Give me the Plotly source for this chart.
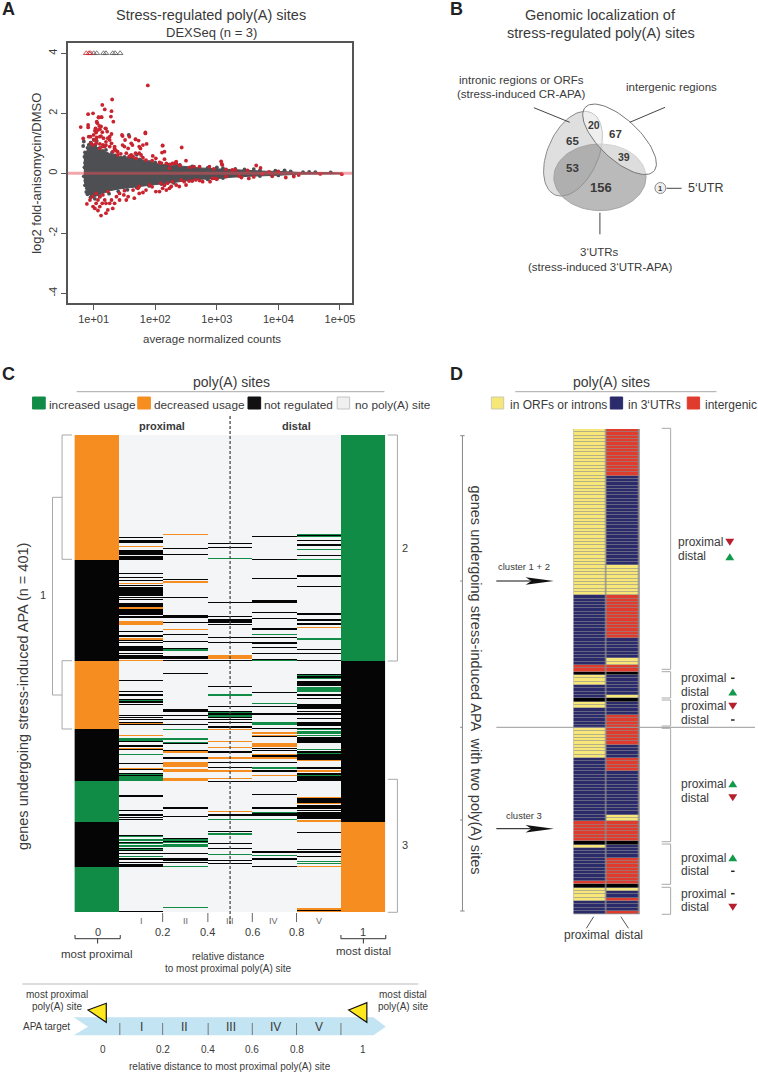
import numpy as np
import plotly.graph_objects as go

W, H = 758, 1073
FONT = "Liberation Sans"
TEXT = "#3a3a3a"
RULE = "#a8a8a8"
GREEN, ORANGE, BLACK, EMPTY = "#118c46", "#f68d20", "#050505", "#f4f5f7"
YELLOW, NAVY, RED = "#f7e678", "#2b2a6b", "#e03c2e"

# panel A, MA plot. x values are log10(mean counts), y values log2 fold change
dense_lx = [0.84, 0.88, 0.92, 0.99, 1.10, 1.26, 1.42, 1.64, 1.85, 2.07, 2.28, 2.50, 2.72, 2.99,
            3.25, 3.52, 3.79, 4.06, 4.33, 4.87, 5.03]
dense_up = [0.62, 0.72, 0.86, 0.98, 0.80, 0.66, 0.56, 0.52, 0.42, 0.30, 0.27, 0.22, 0.18, 0.15,
            0.12, 0.10, 0.07, 0.06, 0.03, 0.02, 0.01]
dense_lo = [-0.22, -0.50, -0.70, -0.80, -0.70, -0.58, -0.52, -0.46, -0.40, -0.35, -0.30, -0.25, -0.20, -0.18,
            -0.13, -0.10, -0.07, -0.06, -0.03, -0.02, -0.02]
grey_lx = [1.57, 0.83, 0.84, 0.87, 0.89, 0.93, 0.85, 0.86, 0.90, 0.95, 1.00, 1.05, 1.70, 2.40, 3.00, 3.60, 4.10, 4.50, 4.85,
           0.86, 0.85, 0.84, 0.86, 0.88, 0.90, 0.92, 0.97, 1.03, 1.10, 1.15, 1.20, 1.30, 1.35, 1.50, 1.60, 1.75, 1.90, 2.00,
           2.20, 2.35, 2.60, 2.85, 3.10, 3.30, 3.45, 3.70, 3.95, 4.20, 4.40, 4.60, 0.95, 1.02, 1.10, 1.25, 1.40, 1.55, 1.70,
           1.90, 2.10, 2.30, 2.60, 2.85, 3.10, 3.40, 3.70, 4.00, 4.25]
grey_y = [1.28, 0.91, 1.06, -0.28, -0.50, -0.61, 0.55, 0.70, 0.85, 1.02, 1.12, 1.08, 0.62, 0.28, 0.20, 0.14, 0.10, 0.05, 0.03,
          0.35, 0.20, -0.10, -0.40, -0.62, -0.70, 0.95, 0.90, 0.95, 0.85, 0.75, 0.78, 0.70, 0.60, 0.55, 0.58, 0.46, 0.38, 0.36,
          0.30, 0.27, 0.23, 0.18, 0.17, 0.15, 0.13, 0.10, 0.09, 0.06, 0.04, 0.04, -0.80, -0.85, -0.78, -0.68, -0.60, -0.55, -0.48,
          -0.42, -0.36, -0.32, -0.25, -0.20, -0.16, -0.11, -0.09, -0.07, -0.05]

red_lx = [0.79, 0.83, 0.91, 0.99, 0.91, 0.91, 0.92, 1.14, 1.18, 1.08, 1.12, 1.06, 1.09, 1.02, 1.04, 1.10,
          1.04, 0.96, 1.30, 1.29, 1.28, 1.32, 1.19, 1.22, 1.12, 1.16, 1.23, 1.26, 1.10, 1.18, 1.26, 1.34,
          1.46, 1.58, 1.68, 1.84, 1.88, 1.73, 1.50, 1.61, 1.74, 2.12, 2.43, 1.77, 1.58, 1.69, 1.85, 2.01,
          2.15, 2.28, 2.18, 2.07, 2.34, 2.72, 3.07, 3.08, 3.64, 3.71, 2.88, 3.25,
          1.31, 1.39, 1.53, 1.64, 1.80, 1.95, 2.10, 2.24, 2.40, 2.56, 1.15, 1.20, 1.00, 1.05, 1.36, 1.44,
          0.95, 1.005, 1.10, 1.26, 1.29, 1.47, 1.51, 1.68, 1.63, 1.56, 1.47, 1.76, 1.80, 1.86, 1.84, 1.74,
          1.68, 1.58, 1.61, 2.12, 2.11, 2.34, 2.50, 2.15, 1.96, 3.09, 2.63, 2.31, 2.23,
          0.99, 1.04, 1.15, 1.34, 1.39, 1.10, 1.20, 1.29, 1.03, 1.07, 1.12, 1.05, 1.08, 1.13, 1.20, 1.14,
          0.98, 1.07, 0.89, 0.99, 1.02, 1.14, 1.20, 1.12, 1.07, 1.26, 1.31, 1.37, 1.53, 1.66, 1.80, 2.01,
          2.07, 2.23, 2.34, 2.20, 2.42, 2.55, 2.72, 2.89, 2.93, 3.15, 3.36, 3.52, 4.12, 4.33, 3.74, 4.68,
          5.03, 1.04, 1.15, 1.23, 1.42, 1.64, 1.74, 1.91, 2.09, 2.28, 2.47, 2.66, 1.50, 1.72, 1.95, 2.15,
          2.60, 3.00, 3.40, 3.85, 4.00,
          1.04, 1.10, 1.18, 1.29, 1.34, 0.94, 1.10, 1.20, 1.23, 1.42, 1.49, 1.56, 1.74, 1.85, 2.18, 2.26,
          2.12, 2.39, 2.50, 2.77, 2.98, 3.30, 3.50, 3.60, 3.90, 4.25, 2.95, 3.15]
red_y = [1.54, 1.16, 1.97, 2.00, 1.61, 1.53, 1.22, 2.28, 2.13, 1.87, 1.87, 1.67, 1.58, 1.42, 1.36, 1.47,
         1.11, 1.00, 2.46, 2.07, 1.89, 1.72, 1.50, 1.39, 1.24, 1.17, 1.17, 1.11, 0.98, 0.89, 0.89, 0.83,
         1.28, 1.22, 1.13, 1.36, 2.93, 1.09, 0.89, 1.00, 0.89, 0.93, 0.86, 0.61, 0.56, 0.50, 0.44, 0.50,
         0.72, 0.33, 0.33, 0.36, 0.33, 0.22, 0.40, 0.31, 0.26, 0.18, 0.22, 0.11,
         0.72, 0.61, 0.67, 0.56, 0.52, 0.42, 0.34, 0.30, 0.26, 0.20, 0.95, 1.05, 1.28, 1.20, 0.76, 0.65,
         1.22, 1.11, 1.22, 1.22, 1.31, 1.24, 1.11, 1.14, 0.94, 0.83, 0.94, 0.83, 0.94, 0.98, 1.33, 0.67,
         0.67, 0.56, 0.61, 0.92, 0.69, 0.39, 0.42, 0.47, 0.58, 0.28, 0.22, 0.33, 0.17,
         0.94, 1.00, 0.89, 0.89, 0.72, 0.83, 0.94, 1.00, 1.50, 1.44, 1.56, 1.72, 1.86, 1.87, 1.49, 1.37,
         -0.78, -0.89, -1.02, -1.11, -1.17, -1.00, -1.33, -1.41, -1.24, -1.00, -1.17, -0.78, -0.89, -0.83, -0.64, -0.61,
         -0.61, -0.50, -0.39, -0.33, -0.22, -0.26, -0.24, -0.28, -0.17, -0.11, -0.09, -0.17, -0.14, -0.06, -0.02, -0.02,
         -0.03, -0.67, -0.72, -0.61, -0.67, -0.56, -0.44, -0.39, -0.33, -0.28, -0.28, -0.22, -0.58, -0.50, -0.45, -0.40,
         -0.25, -0.20, -0.14, 0.05, 0.06,
         -1.00, -1.11, -0.89, -0.89, -1.00, -0.89, -0.78, -1.00, -1.22, -0.89, -0.72, -0.78, -0.67, -0.56, -0.56, -0.44,
         -0.50, -0.44, -0.39, -0.28, -0.17, 0.12, 0.10, -0.12, -0.10, -0.11, 0.15, 0.13]

tri_red_lx = [0.88, 0.925, 0.95]
tri_grey_lx = [1.00, 1.05, 1.16, 1.20, 1.31, 1.35, 1.43]
count_ticks = [10, 100, 1000, 10000, 100000]
count_labels = ["1e+01", "1e+02", "1e+03", "1e+04", "1e+05"]
lfc_ticks = [-4, -2, 0, 2, 4]
lfc_labels = ["-4", "-2", "0", "2", "4"]

# panel C, 401 genes x 7 positions, (first row, end row) per state
c_rows = 401
col0_reg = [(105, 190), (247, 291), (325, 363)]
col0_up = [(291, 325), (363, 401)]
col0_down = [(0, 105), (190, 247)]
col1_reg = [(86, 87), (88, 91), (97, 101), (102, 105), (116, 117), (119, 120), (122, 123), (126, 127), (128, 135),
            (136, 137), (138, 139), (141, 145), (146, 150), (150, 151), (152, 153), (153, 154), (165, 166), (168, 170),
            (172, 173), (174, 175), (177, 182), (183, 184), (185, 188), (206, 207), (215, 216), (218, 219), (222, 223),
            (224, 225), (226, 227), (235, 236), (237, 238), (239, 240), (241, 242), (243, 244), (257, 258), (261, 262),
            (264, 265), (276, 277), (281, 282), (284, 285), (286, 287), (303, 304), (315, 316), (319, 320), (321, 322),
            (323, 324), (336, 337), (342, 343), (347, 348), (349, 350), (351, 352), (356, 357), (359, 360), (361, 363),
            (400, 401)]
col1_up = [(223, 224), (255, 257), (268, 269), (285, 286), (287, 291), (337, 338), (340, 341), (343, 344), (345, 346),
           (348, 349), (354, 355)]
col1_down = [(93, 94), (124, 125), (145, 146), (156, 160), (171, 172), (189, 190), (242, 243), (252, 253), (263, 264),
             (280, 281)]
col2_reg = [(95, 96), (100, 101), (121, 122), (136, 137), (151, 154), (157, 158), (167, 168), (173, 174), (179, 180),
            (186, 188), (189, 190), (200, 201), (230, 233), (235, 236), (239, 240), (243, 244), (259, 260), (265, 266),
            (271, 272), (313, 314), (320, 321), (339, 340), (341, 342), (351, 352), (356, 358), (359, 360)]
col2_up = [(180, 182), (247, 248), (255, 256), (258, 259), (340, 341), (342, 343), (344, 346), (362, 363), (397, 398)]
col2_down = [(83, 84), (123, 124), (163, 164), (266, 267), (275, 279), (281, 283), (288, 289), (289, 291)]
col3_reg = [(91, 92), (94, 95), (140, 141), (152, 153), (155, 158), (159, 160), (170, 171), (174, 175), (189, 190),
            (211, 212), (228, 229), (232, 233), (234, 235), (237, 238), (239, 240), (241, 242), (245, 246), (266, 267),
            (275, 276), (279, 280), (291, 292), (319, 320), (333, 334), (343, 344), (347, 348), (357, 358), (360, 361)]
col3_up = [(103, 104), (218, 219), (233, 234), (235, 237), (323, 324), (335, 336), (352, 353)]
col3_down = [(185, 188), (247, 248), (257, 258), (262, 263), (271, 272), (282, 283), (288, 289), (316, 317)]
col4_reg = [(85, 86), (104, 105), (120, 121), (139, 141), (149, 150), (154, 155), (162, 164), (170, 171), (174, 176),
            (178, 179), (183, 184), (188, 189), (216, 217), (228, 229), (234, 235), (246, 247), (253, 254), (263, 264),
            (265, 266), (269, 272), (275, 276), (282, 283), (291, 292), (302, 303), (313, 314), (318, 320), (350, 351),
            (356, 357), (362, 363)]
col4_up = [(167, 168), (189, 190), (225, 226), (241, 244), (279, 281), (317, 318), (323, 324), (353, 354)]
col4_down = [(250, 251), (252, 253), (259, 262), (268, 269), (271, 272), (286, 287)]
col5_reg = [(84, 85), (88, 89), (92, 93), (101, 102), (118, 119), (127, 128), (150, 151), (155, 156), (158, 160),
            (180, 181), (183, 184), (189, 190), (201, 202), (203, 204), (207, 211), (218, 219), (221, 222), (226, 230),
            (232, 233), (234, 235), (238, 239), (241, 245), (246, 247), (254, 259), (266, 267), (268, 269), (269, 273),
            (279, 281), (284, 291), (305, 309), (311, 314), (315, 316), (317, 323), (334, 335), (348, 349), (350, 351),
            (354, 355), (398, 401)]
col5_up = [(83, 84), (85, 86), (96, 97), (104, 105), (171, 172), (202, 203), (204, 205), (212, 216), (247, 248),
           (249, 251), (252, 253), (264, 265), (267, 268), (286, 287), (358, 359), (360, 361)]
col5_down = [(161, 162), (273, 274), (282, 283), (304, 305), (309, 310), (324, 325), (362, 363), (398, 399), (400, 401)]
col6_reg = [(190, 325)]
col6_up = [(0, 190)]
col6_down = [(325, 401)]

# panel D, 146 genes, runs of (site class, number of rows)
d_proximal = [("orf", 50), ("utr", 21), ("inter", 2), ("none", 1), ("orf", 3), ("utr", 4), ("none", 1), ("orf", 2),
              ("utr", 6), ("orf", 9), ("utr", 19), ("inter", 6), ("none", 1), ("orf", 1), ("utr", 10), ("inter", 1),
              ("none", 1), ("orf", 4), ("utr", 4)]
d_distal = [("inter", 14), ("utr", 27), ("orf", 9), ("inter", 13), ("utr", 6), ("orf", 2), ("inter", 2), ("none", 1),
            ("utr", 6), ("orf", 1), ("none", 1), ("utr", 4), ("inter", 9), ("utr", 4), ("inter", 4), ("utr", 13),
            ("orf", 2), ("inter", 6), ("none", 1), ("utr", 4), ("inter", 8), ("none", 1), ("orf", 1), ("utr", 2),
            ("inter", 1), ("utr", 3), ("inter", 1)]


def dom_x(a, b):
    return [a / W, b / W]


def dom_y(top, bottom):
    return [1 - bottom / H, 1 - top / H]


c_z = np.zeros((c_rows, 7))
c_states = [(col0_reg, col0_up, col0_down), (col1_reg, col1_up, col1_down), (col2_reg, col2_up, col2_down),
            (col3_reg, col3_up, col3_down), (col4_reg, col4_up, col4_down), (col5_reg, col5_up, col5_down),
            (col6_reg, col6_up, col6_down)]
for j, bands in enumerate(c_states):
    for value, runs in zip((1, 2, 3), bands):
        for first, end in runs:
            c_z[first:end, j] = value

d_codes = {"orf": 0, "utr": 1, "inter": 2, "none": 3}
d_z = np.array([[d_codes[k] for k, n in col for _ in range(n)] for col in (d_proximal, d_distal)]).T

fig = go.Figure()

# panel A
fig.add_trace(go.Scatter(
    x=10 ** np.array(dense_lx + dense_lx[::-1]), y=dense_up + dense_lo[::-1], mode="lines",
    fill="toself", fillcolor="#4d4f53", line=dict(color="#4d4f53", width=1), xaxis="x", yaxis="y",
))
fig.add_trace(go.Scatter(x=10 ** np.array(grey_lx), y=grey_y, mode="markers",
                         marker=dict(color="#4d4f53", size=3.8), xaxis="x", yaxis="y"))
fig.add_trace(go.Scatter(x=10 ** np.array(red_lx), y=red_y, mode="markers",
                         marker=dict(color="#c8242f", size=3.8), xaxis="x", yaxis="y"))
fig.add_trace(go.Scatter(x=10 ** np.array(tri_grey_lx), y=[4] * len(tri_grey_lx), mode="markers",
                         marker=dict(color="#555555", size=5, symbol="triangle-up-open", line=dict(width=0.8)),
                         xaxis="x", yaxis="y"))
fig.add_trace(go.Scatter(x=10 ** np.array(tri_red_lx), y=[4] * len(tri_red_lx), mode="markers",
                         marker=dict(color="#c8242f", size=5, symbol="triangle-up-open", line=dict(width=0.8)),
                         xaxis="x", yaxis="y"))

# panel C
fig.add_trace(go.Heatmap(
    z=c_z, x=list(range(7)), y=np.arange(c_rows) + 0.5, zmin=0, zmax=3, showscale=False, xaxis="x2", yaxis="y2",
    colorscale=[[0, EMPTY], [0.25, EMPTY], [0.25, BLACK], [0.5, BLACK], [0.5, GREEN], [0.75, GREEN],
                [0.75, ORANGE], [1, ORANGE]],
))

# panel D
fig.add_trace(go.Heatmap(
    z=d_z, x=[0, 1], y=np.arange(d_z.shape[0]) + 0.5, zmin=0, zmax=3, showscale=False, xaxis="x3", yaxis="y3",
    xgap=1.4, ygap=0.6,
    colorscale=[[0, YELLOW], [0.25, YELLOW], [0.25, NAVY], [0.5, NAVY], [0.5, RED], [0.75, RED],
                [0.75, "#000000"], [1, "#000000"]],
))


# panel B, drawn in pixels on the full page overlay axes
def venn(cx, cy, a, b, deg, fill, line):
    t = np.linspace(0, 2 * np.pi, 90)
    r = np.radians(deg)
    ex = cx + a * np.cos(t) * np.cos(r) - b * np.sin(t) * np.sin(r)
    ey = cy + a * np.cos(t) * np.sin(r) + b * np.sin(t) * np.cos(r)
    fig.add_trace(go.Scatter(x=ex, y=ey, mode="lines", fill="toself", fillcolor=fill,
                             line=dict(color=line, width=1), xaxis="x4", yaxis="y4"))


venn(575.3, 153.7, 45, 25.4, -66, "rgba(170,170,170,0.38)", "#8a8a8a")
venn(602.3, 177.3, 46.3, 33.3, 0, "rgba(150,150,150,0.66)", "#a5a5a5")
venn(622, 139.3, 47, 20, 43, "rgba(255,255,255,0.5)", "#777777")

shapes = []
annos = []


def txt(x, y, s, size=11, color=TEXT, anchor="center", bold=False, angle=0):
    annos.append(dict(x=x, y=y, xref="x4", yref="y4", text=f"<b>{s}</b>" if bold else s, showarrow=False,
                      xanchor=anchor, yanchor="middle", textangle=angle, borderpad=0,
                      font=dict(family=FONT, size=size, color=color)))


def seg(x0, y0, x1, y1, color=RULE, width=1, dash="solid"):
    shapes.append(dict(type="line", x0=x0, y0=y0, x1=x1, y1=y1, xref="x4", yref="y4", layer="above",
                       line=dict(color=color, width=width, dash=dash)))


def poly(points, fill, line=None, width=1):
    path = "M " + " L ".join(f"{x} {y}" for x, y in points) + " Z"
    shapes.append(dict(type="path", path=path, xref="x4", yref="y4", layer="above", fillcolor=fill,
                       line=dict(color=line or fill, width=width if line else 0)))


def box(x0, y0, x1, y1, fill, line=None):
    poly([(x0, y0), (x1, y0), (x1, y1), (x0, y1)], fill, line or fill, 1)


def arrow_mark(x, y, up):
    colour = "#119a4c" if up else "#b5202e"
    s = -1 if up else 1
    poly([(x - 4.5, y - 3.5 * s), (x + 4.5, y - 3.5 * s), (x, y + 3.5 * s)], colour)


def bracket_right(x0, x1, y0, y1):
    seg(x0, y0, x1, y0)
    seg(x1, y0, x1, y1)
    seg(x1, y1, x0, y1)


# panel letters
txt(1, 9, "A", 18, "#222222", "left", True)
txt(451, 9, "B", 18, "#222222", "left", True)
txt(1, 374, "C", 18, "#222222", "left", True)
txt(451, 374, "D", 18, "#222222", "left", True)

# A texts
txt(212, 15, "Stress-regulated poly(A) sites", 14.5)
txt(212, 32, "DEXSeq (n = 3)", 13)
txt(36, 173, "log2 fold-anisomycin/DMSO", 13, angle=-90)
txt(213, 339, "average normalized counts", 11.5)
shapes.append(dict(type="line", x0=0, x1=1, y0=0, y1=0, xref="x domain", yref="y", layer="above",
                   line=dict(color="rgba(232,80,90,0.5)", width=3)))

# B texts and leader lines
txt(603, 15, "Genomic localization of", 14.5)
txt(603, 33, "stress-regulated poly(A) sites", 14.5)
txt(523.5, 80, "intronic regions or ORFs", 11.5)
txt(523.5, 94, "(stress-induced CR-APA)", 11.5)
txt(674, 87, "intergenic regions", 11.5)
txt(602, 252, "3‘UTRs", 11.5)
txt(602, 267, "(stress-induced 3‘UTR-APA)", 11.5)
txt(708, 188, "5‘UTR", 12.5)
txt(596, 125, "20", 10.5, bold=True)
txt(618, 134, "67", 11.5, bold=True)
txt(575, 141, "65", 11.5, bold=True)
txt(626, 157, "39", 10.5, bold=True)
txt(575, 168, "53", 11.5, bold=True)
txt(603, 187, "156", 13, bold=True)
shapes.append(dict(type="circle", x0=657.5, x1=668.5, y0=182.5, y1=193.5, xref="x4", yref="y4", layer="above",
                   fillcolor="#eeeeee", line=dict(color="#8a8a8a", width=1)))
txt(663, 188, "1", 7.5, bold=True)
seg(536, 107.7, 572, 122.3, "#444444")
seg(667.7, 107.3, 632.3, 122.3, "#444444")
seg(602.3, 212.7, 602.3, 234.3, "#444444")
seg(669.3, 188.3, 684.3, 188.3, "#444444")

# C header and legend
txt(232.7, 381.7, "poly(A) sites", 14)
seg(77, 391.7, 386, 391.7)
legend_c = [(32.7, GREEN, "increased usage"), (138.3, ORANGE, "decreased usage"), (249, "#111111", "not regulated")]
for x, colour, label in legend_c:
    box(x, 397, x + 12.7, 409, colour)
    txt(x + 15, 405, label, 11.8, anchor="left")
box(338.5, 397, 351, 409, "#f0f0f0", "#c4c4c4")
txt(355, 405, "no poly(A) site", 11.8, anchor="left")
txt(163, 425.7, "proximal", 11, bold=True)
txt(298, 425.7, "distal", 11, bold=True)
seg(231, 416, 231, 926, "#4a4a4a", 1.3, "3px,2px")

# C cluster brackets
seg(72.3, 435, 62.3, 435)
seg(62.3, 435, 62.3, 559.3)
seg(62.3, 559.3, 72.3, 559.3)
seg(72.3, 660.7, 62.3, 660.7)
seg(62.3, 660.7, 62.3, 729)
seg(62.3, 729, 72.3, 729)
seg(62.3, 497.3, 52.7, 497.3)
seg(52.7, 497.3, 52.7, 695)
seg(52.7, 695, 62.3, 695)
bracket_right(389.3, 399, 435, 661)
bracket_right(389.3, 399, 779.3, 912.3)
txt(42.7, 595, "1", 11)
txt(407, 548, "2", 11)
txt(407, 845, "3", 11)
txt(23, 696, "genes undergoing stress-induced APA (n = 401)", 14.5, angle=-90)

# C lower axis
for x in (163.3, 208.7, 253.3, 297.7):
    seg(x, 913, x, 922, "#666666")
for x, label in zip((141.7, 186, 231, 274.3, 320), ("I", "II", "III", "IV", "V")):
    txt(x, 921, label, 9, "#666666")
for x, label in zip((98, 163.3, 208.7, 253.3, 297.7, 364.3), ("0", "0.2", "0.4", "0.6", "0.8", "1")):
    txt(x, 932, label, 11)
for x0, x1 in ((75.3, 120.7), (342.3, 387.3)):
    mid = (x0 + x1) / 2
    seg(x0, 935, x0, 938.7, "#333333")
    seg(x0, 938.7, x1, 938.7, "#333333")
    seg(x1, 938.7, x1, 935, "#333333")
    seg(mid, 938.7, mid, 943.5, "#333333")
txt(97.7, 953.7, "most proximal", 11.5)
txt(364.7, 951, "most distal", 11.5)
txt(229.3, 956, "relative distance", 10)
txt(229.3, 968, "to most proximal poly(A) site", 10)

# APA target schematic
seg(22.3, 984, 420, 984, "#bbbbbb")
txt(57.7, 994.3, "most proximal", 10)
txt(57.7, 1006.7, "poly(A) site", 10)
txt(405, 994.3, "most distal", 10)
txt(405, 1006.7, "poly(A) site", 10)
txt(46.7, 1026, "APA target", 10)
poly([(74, 1017.3), (375, 1017.3), (387.3, 1026.7), (375, 1035.3), (74, 1035.3), (88.3, 1026.7)], "#c3e4f2")
for x in (120.3, 163.3, 209, 253.3, 297.7, 342.3):
    seg(x, 1023, x, 1035, "#777777")
for x, label in zip((142.3, 185.7, 231.7, 276.7, 320), ("I", "II", "III", "IV", "V")):
    txt(x, 1026.7, label, 12)
poly([(88.3, 1010), (106.7, 1003.3), (106.7, 1022.3)], "#ffe81e", "#111111", 1.2)
poly([(350, 1010), (368.3, 1002.7), (368.3, 1022.3)], "#ffe81e", "#111111", 1.2)
for x, label in zip((103.3, 163.3, 208.7, 253.3, 297.7, 364.7), ("0", "0.2", "0.4", "0.6", "0.8", "1")):
    txt(x, 1049.7, label, 10)
txt(231, 1066.7, "relative distance to most proximal poly(A) site", 10)

# D header and legend
txt(613.7, 382, "poly(A) sites", 14)
seg(517.3, 391.7, 719.3, 391.7)
for x, colour, label, label_x in ((493.3, YELLOW, "in ORFs or introns", 511), (612.7, NAVY, "in 3‘UTRs", 629.3),
                                  (690, RED, "intergenic", 706.7)):
    box(x, 397, x + 12.4, 409, colour, "#c9c9b0" if colour == YELLOW else colour)
    txt(label_x, 405, label, 12, anchor="left")

# D brackets, labels and arrows
for y0, y1 in ((428.3, 669.3), (671.7, 698), (700, 726), (728.3, 841.7), (844, 884.3), (887.3, 914.3)):
    bracket_right(664.3, 673.3, y0, y1)
txt(680, 542.3, "proximal", 12, anchor="left")
txt(680, 556.3, "distal", 12, anchor="left")
arrow_mark(732.7, 542.3, False)
arrow_mark(732.7, 556.7, True)
d_labels = [(678.3, None, 692, True), (706.3, False, 720, None), (783.7, True, 797.7, False),
            (857.7, True, 871.3, None), (893.7, None, 907.3, False)]
for y_p, mark_p, y_d, mark_d in d_labels:
    txt(683, y_p, "proximal", 12, anchor="left")
    txt(683, y_d, "distal", 12, anchor="left")
    for y, mark in ((y_p, mark_p), (y_d, mark_d)):
        if mark is None:
            seg(734, y, 737.5, y, "#222222", 1.5)
        else:
            arrow_mark(735.7, y, mark)
seg(498.3, 727.3, 758, 727.3, "#999999")
txt(478.3, 680, "genes undergoing stress-induced APA  with two poly(A) sites", 14.5, angle=90)
seg(464.3, 435.7, 464.3, 911, "#888888")
for y in (435.7, 911):
    seg(462, y, 466.5, y, "#888888")
for y in (581, 727.3, 820):
    seg(462, y, 464.3, y, "#888888")
txt(525.7, 566.7, "cluster 1 + 2", 9.5)
txt(525.7, 815.3, "cluster 3", 9.5)
for y in (581, 828.7):
    seg(498.3, y, 535, y, "#111111", 1)
    poly([(556, y), (527.7, y - 3.7), (533.5, y), (527.7, y + 3.7)], "#111111")
txt(588.7, 935.3, "proximal", 12)
txt(631, 935.3, "distal", 12)
seg(596, 916.7, 588.7, 928.3, "#555555")
seg(623.3, 916.7, 631, 928.3, "#555555")

# grey shows through the gaps of the panel D heatmap
shapes.append(dict(type="rect", x0=0, x1=1, y0=0, y1=1, xref="x3 domain", yref="y3 domain", layer="below",
                   fillcolor="#8d8d90", line=dict(width=0)))

hidden = dict(visible=False, showgrid=False, zeroline=False)
fig.update_layout(
    width=W, height=H, margin=dict(l=0, r=0, t=0, b=0), showlegend=False, paper_bgcolor="white",
    plot_bgcolor="rgba(0,0,0,0)", font=dict(family=FONT, color=TEXT), shapes=shapes, annotations=annos,
    xaxis=dict(type="log", domain=dom_x(68, 353.5), range=[0.579, 5.197], tickvals=count_ticks, ticktext=count_labels,
               ticks="outside", ticklen=5, tickcolor="#555555", tickfont=dict(size=11, color=TEXT), showgrid=False,
               zeroline=False, showline=True, mirror=True, linecolor="#555555", linewidth=1.5),
    yaxis=dict(domain=dom_y(43.3, 303.3), range=[-4.333, 4.333], tickvals=lfc_ticks, ticktext=lfc_labels, tickangle=-90,
               ticks="outside", ticklen=5, tickcolor="#555555", tickfont=dict(size=11, color=TEXT), showgrid=False,
               zeroline=False, showline=True, mirror=True, linecolor="#555555", linewidth=1.5),
    xaxis2=dict(hidden, domain=dom_x(74.7, 386.7), range=[-0.5, 6.5]),
    yaxis2=dict(hidden, domain=dom_y(435, 912.3), range=[c_rows, 0]),
    xaxis3=dict(hidden, domain=dom_x(575.7, 642.3), range=[-0.5, 1.5]),
    yaxis3=dict(hidden, domain=dom_y(429, 914.3), range=[146, 0]),
    xaxis4=dict(hidden, domain=[0, 1], range=[0, W]),
    yaxis4=dict(hidden, domain=[0, 1], range=[H, 0]),
)

fig.write_html("out.html", config={"displayModeBar": False}, post_script="document.body.style.margin='0';")
